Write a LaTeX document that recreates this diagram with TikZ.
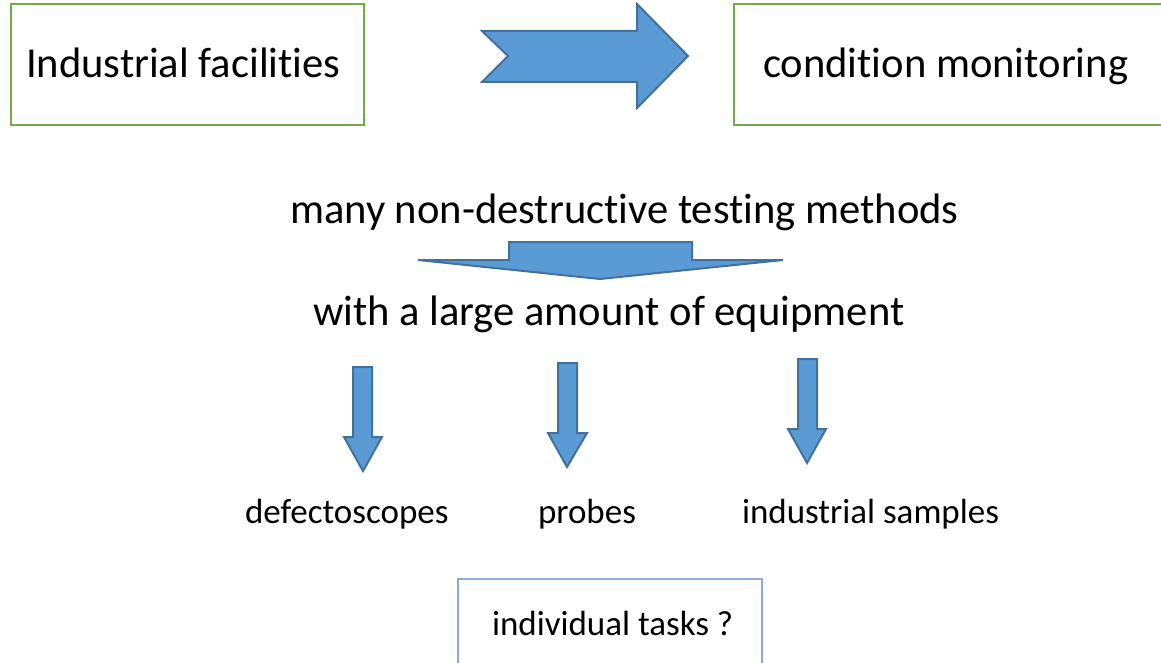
\documentclass[tikz,border=0pt]{standalone}
\usepackage{fontspec}
\setmainfont{Carlito}[Ligatures={NoCommon}]
\definecolor{boxgreen}{RGB}{112,173,71}
\definecolor{arrowfill}{RGB}{91,155,213}
\definecolor{arrowline}{RGB}{65,113,156}
\definecolor{taskblue}{RGB}{143,170,220}

\begin{document}
\begin{tikzpicture}[x=1pt,y=-1pt,line width=2pt,line join=miter,
  blockarrow/.style={fill=arrowfill,draw=arrowline,line width=2pt},
  bigtext/.style={anchor=base west,inner sep=0pt,font=\fontsize{42.6}{46}\selectfont},
  smalltext/.style={anchor=base west,inner sep=0pt,font=\fontsize{35}{38}\selectfont}]
  \path[use as bounding box] (0,0) rectangle (1161,663);

  % boxes at the top and the bottom
  \draw[boxgreen] (11,4) rectangle (364,125);
  \draw[boxgreen] (734,4) rectangle (1175,125);
  \draw[taskblue] (458,579) rectangle (762,680);

  % block arrows
  \draw[blockarrow] (482,31) -- (637,31) -- (637,4) -- (688,56) -- (637,108)
    -- (637,82) -- (482,82) -- (508,56) -- cycle;
  \draw[blockarrow] (418,260) -- (509,260) -- (509,242) -- (692,242)
    -- (692,260) -- (783,260) -- (600,279) -- cycle;
  \draw[blockarrow] (353,367) -- (372,367) -- (372,437) -- (382,437)
    -- (363,471) -- (344,437) -- (353,437) -- cycle;
  \draw[blockarrow] (558,363) -- (577,363) -- (577,433) -- (587,433)
    -- (567,467) -- (548,433) -- (558,433) -- cycle;
  \draw[blockarrow] (798,359) -- (817,359) -- (817,429) -- (826,429)
    -- (807,463) -- (788,429) -- (798,429) -- cycle;

  \node[bigtext] (facilities) at (25,78) {Industrial facilities};
  \node[bigtext] (monitoring) at (762,78) {condition monitoring};
  \node[bigtext] (methods) at (289,223) {many non-destructive testing methods};
  \node[bigtext] (equipment) at (312,325) {with a large amount of equipment};
  \node[smalltext] (defecto) at (244,523) {defectoscopes};
  \node[smalltext] (probes) at (537,523) {probes};
  \node[smalltext] (samples) at (741,523) {industrial samples};
  \node[smalltext] (tasks) at (491,635) {individual tasks ?};
\end{tikzpicture}
\end{document}
